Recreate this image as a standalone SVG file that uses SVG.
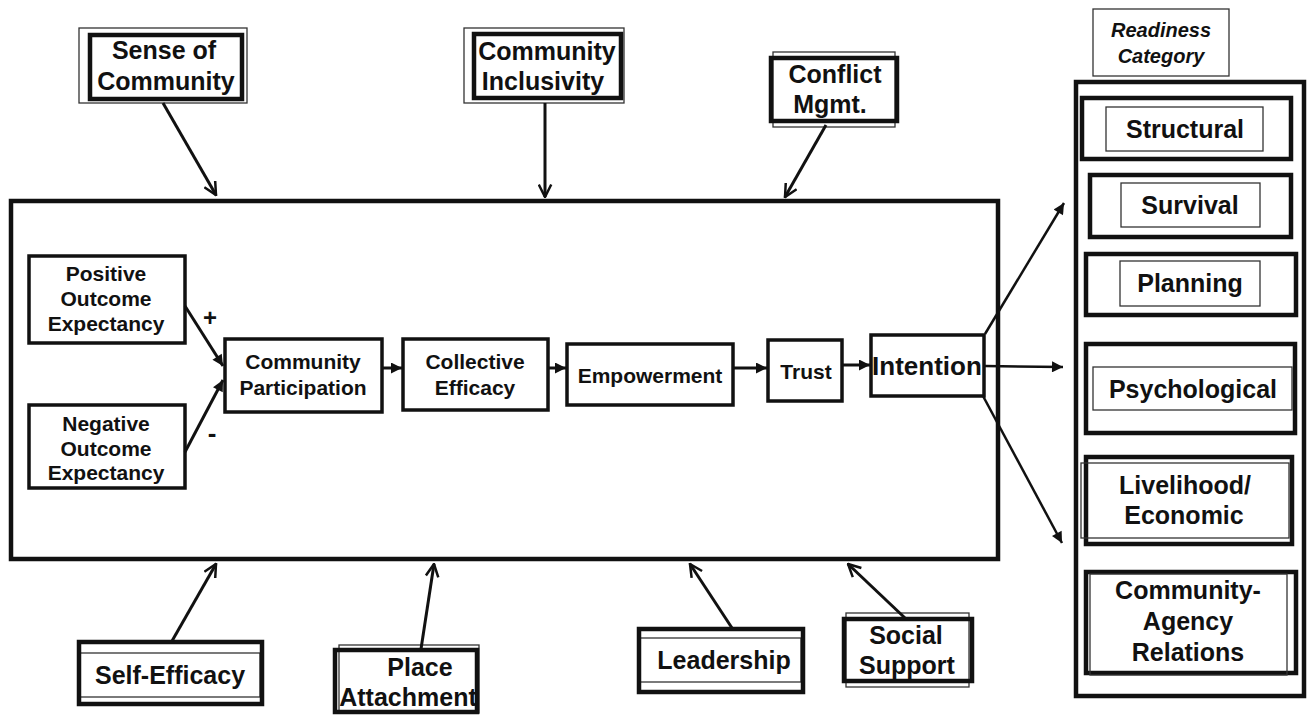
<svg xmlns="http://www.w3.org/2000/svg" width="1308" height="715" viewBox="0 0 1308 715">
<style>
text{font-family:"Liberation Sans",Arial,sans-serif;font-weight:bold;fill:#111;text-anchor:middle}
.big{font-size:25px}
.chain{font-size:21px}
.thick{fill:none;stroke:#111;stroke-width:4.5}
.thin{fill:none;stroke:#333;stroke-width:1.3}
.box{fill:#fff;stroke:#111;stroke-width:3.5}
.conn{stroke:#111;stroke-width:3;fill:none}
.conn2{stroke:#111;stroke-width:2.5;fill:none}
</style>
<defs>
<marker id="open" viewBox="0 0 12 12" refX="11" refY="6" markerWidth="15" markerHeight="15" markerUnits="userSpaceOnUse" orient="auto">
<path d="M1,1 L11,6 L1,11" fill="none" stroke="#111" stroke-width="2"/>
</marker>
<marker id="tri" viewBox="0 0 10 10" refX="10" refY="5" markerWidth="12" markerHeight="11" markerUnits="userSpaceOnUse" orient="auto">
<path d="M0,0 L10,5 L0,10 Z" fill="#111"/>
</marker>
</defs>
<rect width="1308" height="715" fill="#fff"/>

<g id="main-frame"><rect x="11" y="201" width="987" height="358" class="thick" stroke-width="5"/></g>

<g id="sense-of-community">
<rect x="79" y="28" width="168" height="75" class="thin"/>
<rect x="90" y="35" width="152" height="64" class="thick"/>
<text class="big" x="164" y="59">Sense of</text>
<text class="big" x="166" y="90">Community</text>
</g>
<g id="community-inclusivity">
<rect x="464" y="28" width="160" height="75" class="thin"/>
<rect x="474" y="34" width="147" height="64" class="thick"/>
<text class="big" x="547" y="60">Community</text>
<text class="big" x="543" y="90">Inclusivity</text>
</g>
<g id="conflict-mgmt">
<rect x="773" y="52" width="122" height="75" class="thin"/>
<rect x="771" y="58" width="126" height="63" class="thick"/>
<text class="big" x="835" y="83">Conflict</text>
<text class="big" x="830" y="113">Mgmt.</text>
</g>

<g id="self-efficacy">
<rect x="80" y="653" width="180" height="44" class="thin"/>
<rect x="79" y="642" width="183" height="62" class="thick"/>
<text class="big" x="170" y="684">Self-Efficacy</text>
</g>
<g id="place-attachment">
<rect x="339" y="645" width="140" height="68" class="thin"/>
<rect x="335" y="650" width="142" height="62" class="thick"/>
<text class="big" x="420" y="676">Place</text>
<text class="big" x="408" y="706">Attachment</text>
</g>
<g id="leadership">
<rect x="640" y="638" width="161" height="44" class="thin"/>
<rect x="639" y="629" width="164" height="63" class="thick"/>
<text class="big" x="724" y="669">Leadership</text>
</g>
<g id="social-support">
<rect x="846" y="613" width="123" height="74" class="thin"/>
<rect x="844" y="619" width="128" height="62" class="thick"/>
<text class="big" x="906" y="644">Social</text>
<text class="big" x="907" y="674">Support</text>
</g>

<g id="positive-outcome-expectancy">
<rect x="29" y="256" width="156" height="87" class="box"/>
<text class="chain" x="106" y="281">Positive</text>
<text class="chain" x="106" y="306">Outcome</text>
<text class="chain" x="106" y="331">Expectancy</text>
</g>
<g id="negative-outcome-expectancy">
<rect x="29" y="405" width="156" height="83" class="box"/>
<text class="chain" x="106" y="431">Negative</text>
<text class="chain" x="106" y="456">Outcome</text>
<text class="chain" x="106" y="480">Expectancy</text>
</g>
<g id="community-participation">
<rect x="225" y="339" width="157" height="73" class="box"/>
<text class="chain" x="303" y="369">Community</text>
<text class="chain" x="303" y="395">Participation</text>
</g>
<g id="collective-efficacy">
<rect x="403" y="339" width="145" height="71" class="box"/>
<text class="chain" x="475" y="369">Collective</text>
<text class="chain" x="475" y="395">Efficacy</text>
</g>
<g id="empowerment">
<rect x="567" y="344" width="166" height="61" class="box"/>
<text class="chain" x="650" y="383">Empowerment</text>
</g>
<g id="trust">
<rect x="768" y="340" width="74" height="61" class="box"/>
<text class="chain" x="806" y="379">Trust</text>
</g>
<g id="intention">
<rect x="871" y="335" width="113" height="61" class="box"/>
<text x="927" y="375" style="font-size:26px">Intention</text>
</g>

<g id="readiness-category">
<rect x="1093" y="9" width="136" height="67" class="thin"/>
<text x="1161" y="37" style="font-size:20px;font-style:italic">Readiness</text>
<text x="1161" y="63" style="font-size:20px;font-style:italic">Category</text>
</g>
<g id="readiness-frame"><rect x="1076" y="82" width="228" height="614" class="thick" stroke-width="5"/></g>
<g id="structural">
<rect x="1082" y="98" width="209" height="61" class="thick"/>
<rect x="1106" y="107" width="157" height="44" class="thin"/>
<text class="big" x="1185" y="138">Structural</text>
</g>
<g id="survival">
<rect x="1090" y="175" width="201" height="62" class="thick"/>
<rect x="1121" y="183" width="139" height="44" class="thin"/>
<text class="big" x="1190" y="214">Survival</text>
</g>
<g id="planning">
<rect x="1086" y="254" width="210" height="61" class="thick"/>
<rect x="1120" y="261" width="140" height="45" class="thin"/>
<text class="big" x="1190" y="292">Planning</text>
</g>
<g id="psychological">
<rect x="1086" y="344" width="209" height="89" class="thick"/>
<rect x="1093" y="367" width="199" height="43" class="thin"/>
<text class="big" x="1193" y="398">Psychological</text>
</g>
<g id="livelihood-economic">
<rect x="1086" y="457" width="206" height="87" class="thick"/>
<rect x="1081" y="463" width="208" height="75" class="thin"/>
<text class="big" x="1185" y="494">Livelihood/</text>
<text class="big" x="1184" y="524">Economic</text>
</g>
<g id="community-agency-relations">
<rect x="1086" y="572" width="210" height="101" class="thick"/>
<rect x="1090" y="574" width="197" height="101" class="thin"/>
<text class="big" x="1188" y="599">Community-</text>
<text class="big" x="1188" y="630">Agency</text>
<text class="big" x="1188" y="661">Relations</text>
</g>

<g id="connectors">
<line x1="163" y1="103" x2="216" y2="195" class="conn" marker-end="url(#open)"/>
<line x1="545" y1="103" x2="545" y2="197" class="conn" marker-end="url(#open)"/>
<line x1="826" y1="125" x2="785" y2="197" class="conn" marker-end="url(#open)"/>
<line x1="172" y1="641" x2="216" y2="564" class="conn" marker-end="url(#open)"/>
<line x1="421" y1="649" x2="434" y2="564" class="conn" marker-end="url(#open)"/>
<line x1="732" y1="628" x2="690" y2="564" class="conn" marker-end="url(#open)"/>
<line x1="905" y1="618" x2="848" y2="564" class="conn" marker-end="url(#open)"/>
<line x1="185" y1="306" x2="223" y2="366" class="conn" marker-end="url(#tri)"/>
<line x1="185" y1="452" x2="223" y2="380" class="conn" marker-end="url(#tri)"/>
<line x1="382" y1="368" x2="402" y2="368" class="conn" marker-end="url(#tri)"/>
<line x1="548" y1="368" x2="566" y2="368" class="conn" marker-end="url(#tri)"/>
<line x1="733" y1="368" x2="767" y2="368" class="conn" marker-end="url(#tri)"/>
<line x1="842" y1="365" x2="870" y2="365" class="conn" marker-end="url(#tri)"/>
<line x1="985" y1="334" x2="1064" y2="203" class="conn2" marker-end="url(#tri)"/>
<line x1="985" y1="366" x2="1063" y2="367" class="conn2" marker-end="url(#tri)"/>
<line x1="983" y1="396" x2="1062" y2="543" class="conn2" marker-end="url(#tri)"/>
<text x="210" y="326" style="font-size:24px">+</text>
<text x="212" y="442" style="font-size:26px">-</text>
</g>
</svg>
